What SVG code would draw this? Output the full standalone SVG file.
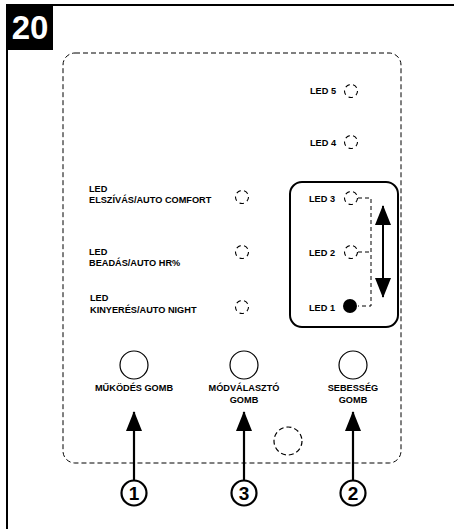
<svg xmlns="http://www.w3.org/2000/svg" width="454" height="529" viewBox="0 0 454 529">
<style>
.t{font-family:"Liberation Sans",Arial,sans-serif;font-weight:bold;font-size:9.2px;fill:#000}
.c{text-anchor:middle}
.led{fill:none;stroke:#000;stroke-width:1.1;stroke-dasharray:4.5,3.5}
.btn{fill:#fff;stroke:#000;stroke-width:1.2}
.num{fill:#fff;stroke:#000;stroke-width:2.2}
.nt{font-family:"Liberation Sans",Arial,sans-serif;font-weight:bold;font-size:19px;text-anchor:middle}
</style>
<defs>
<marker id="ah" viewBox="0 0 20 16" refX="19" refY="8" markerWidth="20" markerHeight="16" markerUnits="userSpaceOnUse" orient="auto">
<path d="M0,0 L20,8 L0,16 Z" fill="#000"/>
</marker>
</defs>
<rect width="454" height="529" fill="#fff"/>
<g id="frame">
<line x1="7" y1="5" x2="454" y2="5" stroke="#000" stroke-width="2"/>
<line x1="7" y1="5" x2="7" y2="529" stroke="#000" stroke-width="2"/>
<rect x="6" y="4" width="47" height="46" fill="#000"/>
<text x="30" y="39" font-family="Liberation Sans,Arial,sans-serif" font-weight="bold" font-size="33" fill="#fff" text-anchor="middle">20</text>
</g>
<rect id="panel" x="63" y="53" width="338" height="410" rx="12" fill="none" stroke="#000" stroke-width="1" stroke-dasharray="5,3"/>
<rect id="speedbox" x="290" y="182" width="108" height="145" rx="12" fill="none" stroke="#000" stroke-width="2"/>
<g id="led5"><text class="t" x="310" y="94">LED 5</text><circle class="led" cx="351" cy="91" r="6.5"/></g>
<g id="led4"><text class="t" x="310" y="146">LED 4</text><circle class="led" cx="351" cy="142" r="6.5"/></g>
<g id="led3"><text class="t" x="309" y="202">LED 3</text><circle class="led" cx="351" cy="198" r="6.5"/></g>
<g id="led2"><text class="t" x="309" y="256">LED 2</text><circle class="led" cx="351" cy="252" r="6.5"/></g>
<g id="led1"><text class="t" x="309" y="311">LED 1</text><circle cx="350" cy="306" r="7" fill="#000"/></g>
<g id="ledA"><text class="t" x="89" y="192">LED</text><text class="t" x="89" y="203">ELSZÍVÁS/AUTO COMFORT</text><circle class="led" cx="242" cy="197" r="6.5"/></g>
<g id="ledB"><text class="t" x="89" y="255">LED</text><text class="t" x="89" y="266">BEADÁS/AUTO HR%</text><circle class="led" cx="242" cy="252" r="6.5"/></g>
<g id="ledC"><text class="t" x="90" y="301">LED</text><text class="t" x="90" y="313">KINYERÉS/AUTO NIGHT</text><circle class="led" cx="242" cy="307" r="6.5" stroke="#555" stroke-width="0.8"/></g>
<g id="btn1"><circle class="btn" cx="134" cy="365" r="14"/><text class="t c" x="134" y="391">MŰKÖDÉS GOMB</text></g>
<g id="btn3"><circle class="btn" cx="244" cy="365" r="14"/><text class="t c" x="244" y="391">MÓDVÁLASZTÓ</text><text class="t c" x="244" y="403">GOMB</text></g>
<g id="btn2"><circle class="btn" cx="353" cy="365" r="14"/><text class="t c" x="353" y="391">SEBESSÉG</text><text class="t c" x="353" y="403">GOMB</text></g>
<circle id="hole" cx="288" cy="441" r="14" fill="none" stroke="#000" stroke-width="1.2" stroke-dasharray="5,3"/>
<g id="n1"><circle class="num" cx="134" cy="493" r="12.5"/><text class="nt" x="134" y="500">1</text></g>
<g id="n3"><circle class="num" cx="244" cy="493" r="12.5"/><text class="nt" x="244" y="500">3</text></g>
<g id="n2"><circle class="num" cx="353" cy="493" r="12.5"/><text class="nt" x="353" y="500">2</text></g>
<g id="connectors" stroke="#000" fill="none">
<path d="M358,198 H371 V306 H358 M358,252 H371" stroke-width="1" stroke-dasharray="4,3"/>
<line x1="383" y1="250" x2="383" y2="206" stroke-width="2" marker-end="url(#ah)"/>
<line x1="383" y1="250" x2="383" y2="297" stroke-width="2" marker-end="url(#ah)"/>
<line x1="134" y1="480" x2="134" y2="412" stroke-width="2.2" marker-end="url(#ah)"/>
<line x1="244" y1="480" x2="244" y2="412" stroke-width="2.2" marker-end="url(#ah)"/>
<line x1="353" y1="480" x2="353" y2="412" stroke-width="2.2" marker-end="url(#ah)"/>
</g>
</svg>
